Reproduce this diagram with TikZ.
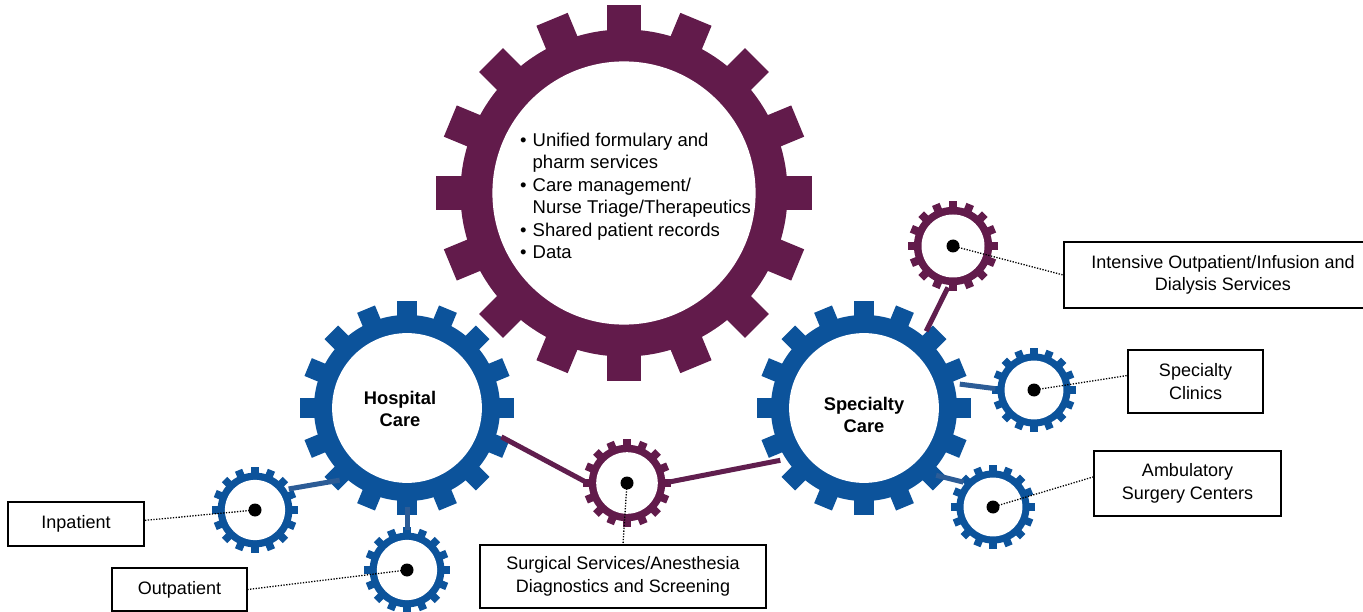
\documentclass[tikz,border=0pt]{standalone}
\usepackage{fontspec}
\setmainfont{Liberation Sans}
\usetikzlibrary{calc}

\definecolor{gearpurple}{RGB}{98,27,75}
\definecolor{gearblue}{RGB}{12,83,155}
\definecolor{linkblue}{RGB}{44,92,150}
\definecolor{linkpurple}{RGB}{96,30,78}

% toothed ring: centre x, centre y, outer radius, colour
\newcommand\drawgear[4]{%
  \begin{scope}[shift={(#1,#2)}]
    \fill[#4] (0,0) circle[radius={0.87*#3}];
    \foreach \a in {0,22.5,...,337.5}
      \fill[#4,rotate=\a] ({-0.09*#3},{0.8*#3}) rectangle ({0.09*#3},{#3});
    \fill[white] (0,0) circle[radius={0.70*#3}];
  \end{scope}}

\tikzset{
  hub/.style={circle, inner sep=0pt, minimum size=#1},
  hubdot/.style={circle, fill=black, inner sep=0pt, minimum size=13pt},
  labelbox/.style={draw=black, line width=1.5pt, fill=white, align=center,
    inner sep=0pt, font=\fontsize{18}{22.5}\selectfont},
  bluelink/.style={draw=linkblue, line width=5pt},
  purplelink/.style={draw=linkpurple, line width=5pt},
  leader/.style={draw=black, line width=1.3pt, dash pattern=on 1.3pt off 1.5pt},
  gearlabel/.style={font=\bfseries\fontsize{18.3}{22.5}\selectfont, align=center}
}

\begin{document}
\begin{tikzpicture}[x=1pt, y=-1pt]
  \useasboundingbox (0,0) rectangle (1363,612);

  % gears
  \drawgear{624}{193}{188}{gearpurple}
  \drawgear{407}{408}{107}{gearblue}
  \drawgear{864}{408}{107}{gearblue}
  \drawgear{255}{510}{43}{gearblue}
  \drawgear{407}{570}{43}{gearblue}
  \drawgear{627}{483}{44}{gearpurple}
  \drawgear{953}{246}{45}{gearpurple}
  \drawgear{1034}{390}{42}{gearblue}
  \drawgear{993}{507}{42}{gearblue}

  % hubs of the gears
  \node[hub=346pt] (core)  at (624,193) {};
  \node[hub=197pt] (hosp)  at (407,408) {};
  \node[hub=197pt] (spec)  at (864,408) {};
  \node[hub=79pt]  (inp)   at (255,510) {};
  \node[hub=79pt]  (outp)  at (407,570) {};
  \node[hub=81pt]  (surg)  at (627,483) {};
  \node[hub=83pt]  (inten) at (953,246) {};
  \node[hub=77pt]  (clin)  at (1034,390) {};
  \node[hub=77pt]  (amb)   at (993,507) {};

  % shafts between gears
  \draw[bluelink]   (hosp.227) -- (inp.32);
  \draw[bluelink]   (hosp.270) -- (outp.90);
  \draw[purplelink] (hosp.-17) -- (surg.179);
  \draw[purplelink] (surg.1)   -- (spec.212);
  \draw[purplelink] (spec.51)  -- (inten.263);
  \draw[bluelink]   (spec.14)  -- (clin.178);
  \draw[bluelink]   (spec.-43) -- (amb.140);

  % texts inside the large gears
  \node[anchor=north west, inner sep=0pt, font=\fontsize{18.5}{22.5}\selectfont] (coretext) at (520,130.5)
    {\begin{tabular}{@{}l@{\hspace{6pt}}l@{}}
      •&Unified formulary and\\
       &pharm services\\
      •&Care management/\\
       &Nurse Triage/Therapeutics\\
      •&Shared patient records\\
      •&Data
    \end{tabular}};
  \node[gearlabel] (hosptext) at (400,409) {Hospital\\Care};
  \node[gearlabel] (spectext) at (864,415) {Specialty\\Care};

  % label boxes
  \node[labelbox, minimum width=136pt, minimum height=44pt] (inpbox)  at (76,524)    {Inpatient};
  \node[labelbox, minimum width=135pt, minimum height=43pt] (outbox)  at (179.5,589.5) {Outpatient};
  \node[labelbox, minimum width=286pt, minimum height=63pt] (surgbox) at (623,576.5) {Surgical Services/Anesthesia\\Diagnostics and Screening};
  \node[labelbox, minimum width=318pt, minimum height=66pt] (intbox)  at (1223,275)  {Intensive Outpatient/Infusion and\\Dialysis Services};
  \node[labelbox, minimum width=135pt, minimum height=63pt] (clinbox) at (1195.5,381.5) {Specialty\\Clinics};
  \node[labelbox, minimum width=187pt, minimum height=65pt] (ambbox)  at (1187.5,483.5) {Ambulatory\\Surgery Centers};

  % dotted leaders from gear centres to their labels
  \draw[leader] (inp.center)   -- (inpbox.3);
  \draw[leader] (outp.center)  -- (outbox.east);
  \draw[leader] (surg.center)  -- (surgbox.north);
  \draw[leader] (inten.center) -- (intbox.west);
  \draw[leader] (clin.center)  -- (clinbox.175);
  \draw[leader] (amb.center)   -- (ambbox.176);

  % centre dots
  \node[hubdot] (inpdot)   at (inp)   {};
  \node[hubdot] (outpdot)  at (outp)  {};
  \node[hubdot] (surgdot)  at (surg)  {};
  \node[hubdot] (intendot) at (inten) {};
  \node[hubdot] (clindot)  at (clin)  {};
  \node[hubdot] (ambdot)   at (amb)   {};
\end{tikzpicture}
\end{document}
